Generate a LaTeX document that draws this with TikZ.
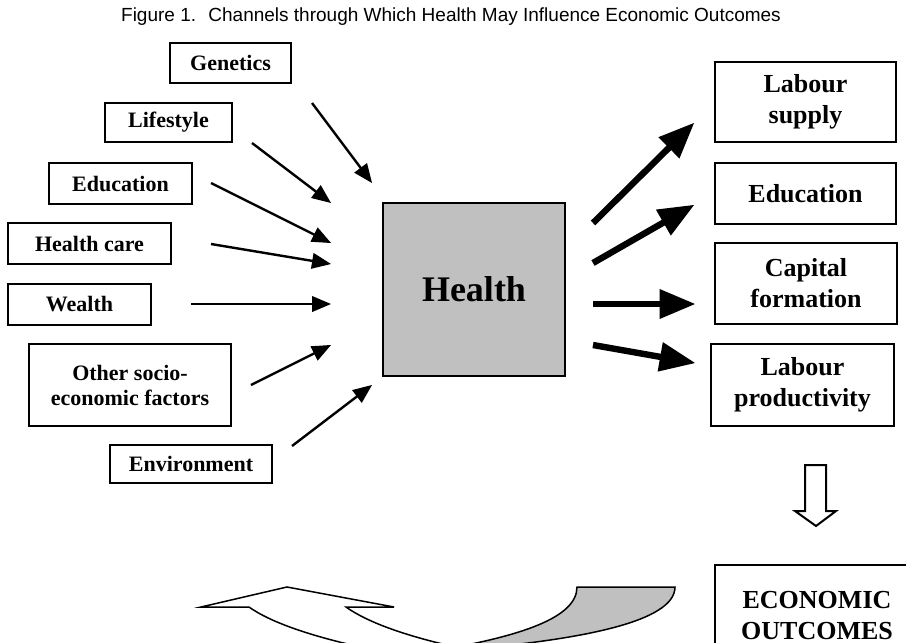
\documentclass[tikz,border=0pt]{standalone}
\usepackage{fontspec}
\setmainfont{Liberation Serif}
\newfontfamily\titlefont{Liberation Sans}
\usetikzlibrary{arrows}

\definecolor{healthgray}{RGB}{192,192,192}

\tikzset{
  factor/.style={draw, line width=0.75pt, inner sep=0pt, align=center,
    font=\fontsize{11}{12.5}\selectfont\bfseries},
  outcome/.style={draw, line width=0.75pt, inner sep=0pt, align=center,
    font=\fontsize{13}{15.5}\selectfont\bfseries},
  inarrow/.style={line width=1.2pt, ->, >=triangle 45},
  outarrow/.style={line width=3.2pt, ->, >=triangle 45},
}

\begin{document}
\begin{tikzpicture}[x=0.5pt, y=-0.5pt]
\useasboundingbox (0,0) rectangle (906,643);
\clip (0,0) rectangle (906,643);

\node [font=\titlefont\fontsize{9.5}{11}\selectfont] (title) at (451,17)
  {Figure 1.~ Channels through Which Health May Influence Economic Outcomes};

%%%%%%%%%%%%%%%%%%%
% Determinants of health

\node [factor, minimum width=60.5pt, minimum height=20pt] (genetics) at (230.5,63) {Genetics};
\node [factor, minimum width=63.5pt, minimum height=19.5pt] (lifestyle) at (168.5,122.5) {Lifestyle};
\node [factor, minimum width=71.5pt, minimum height=20.5pt] (schooling) at (120.5,183.5) {Education};
\node [factor, minimum width=81.5pt, minimum height=20.5pt] (care) at (89.5,243.5) {Health care};
\node [factor, minimum width=71.5pt, minimum height=20.5pt] (wealth) at (79.5,304.5) {Wealth};
\node [factor, minimum width=101pt, minimum height=41pt] (socio) at (130,385) {Other socio-\\economic factors};
\node [factor, minimum width=81pt, minimum height=19pt] (environment) at (191,464) {Environment};

%%%%%%%%%%%%%%%%%%%
% Health

\node [draw, fill=healthgray, line width=0.75pt, minimum width=91pt, minimum height=86.5pt,
  font=\fontsize{18}{20}\selectfont\bfseries] (health) at (474,289.5) {Health};

%%%%%%%%%%%%%%%%%%%
% Economic channels

\node [outcome, minimum width=90.5pt, minimum height=40pt] (supply) at (805.5,102) {Labour\\supply};
\node [outcome, minimum width=90.5pt, minimum height=30.5pt] (training) at (805.5,193.5) {Education};
\node [outcome, minimum width=91pt, minimum height=40.5pt] (capital) at (806,283.5) {Capital\\formation};
\node [outcome, minimum width=91.5pt, minimum height=41pt] (productivity) at (802.5,385) {Labour\\productivity};
\node [outcome, minimum width=102pt, minimum height=51pt] (outcomes) at (817,616) {ECONOMIC\\OUTCOMES};

%%%%%%%%%%%%%%%%%%%
% Arrows into health

\coordinate (genetics-out) at (312,103);   \coordinate (genetics-in) at (372,183);
\coordinate (lifestyle-out) at (252,143);  \coordinate (lifestyle-in) at (331,203);
\coordinate (schooling-out) at (211,183);  \coordinate (schooling-in) at (331,243);
\coordinate (care-out) at (211,244);       \coordinate (care-in) at (331,264);
\coordinate (wealth-out) at (191,304);     \coordinate (wealth-in) at (331,304);
\coordinate (socio-out) at (251,385);      \coordinate (socio-in) at (331,345);
\coordinate (environment-out) at (292,446); \coordinate (environment-in) at (372,385);

\draw [inarrow] (genetics-out) -- (genetics-in);
\draw [inarrow] (lifestyle-out) -- (lifestyle-in);
\draw [inarrow] (schooling-out) -- (schooling-in);
\draw [inarrow] (care-out) -- (care-in);
\draw [inarrow] (wealth-out) -- (wealth-in);
\draw [inarrow] (socio-out) -- (socio-in);
\draw [inarrow] (environment-out) -- (environment-in);

%%%%%%%%%%%%%%%%%%%
% Arrows out of health

\coordinate (supply-out) at (593,223);       \coordinate (supply-in) at (694,123);
\coordinate (training-out) at (593,263);     \coordinate (training-in) at (694,205);
\coordinate (capital-out) at (593,304);      \coordinate (capital-in) at (695,304);
\coordinate (productivity-out) at (593,345); \coordinate (productivity-in) at (695,363);

\draw [outarrow] (supply-out) -- (supply-in);
\draw [outarrow] (training-out) -- (training-in);
\draw [outarrow] (capital-out) -- (capital-in);
\draw [outarrow] (productivity-out) -- (productivity-in);

%%%%%%%%%%%%%%%%%%%
% Block arrow down to outcomes

\draw [line width=1pt, fill=white] (805,465) -- (826,465) -- (826,511) -- (836,511)
  -- (816,526) -- (795,511) -- (805,511) -- cycle;

%%%%%%%%%%%%%%%%%%%
% Feedback arrow (curved, back side shaded)

\filldraw [line width=0.75pt, fill=healthgray] (577,587) -- (675,587)
  .. controls (675,622) and (580,640) .. (460,650) -- (440,650)
  .. controls (520,636) and (577,618) .. (577,587) -- cycle;

\filldraw [line width=0.75pt, fill=white] (249,607) -- (201,607) -- (287,587) -- (394,607) -- (346,607)
  .. controls (367,622) and (405,636) .. (460,648) -- (365,648)
  .. controls (310,636) and (270,622) .. (249,607) -- cycle;

\end{tikzpicture}
\end{document}
